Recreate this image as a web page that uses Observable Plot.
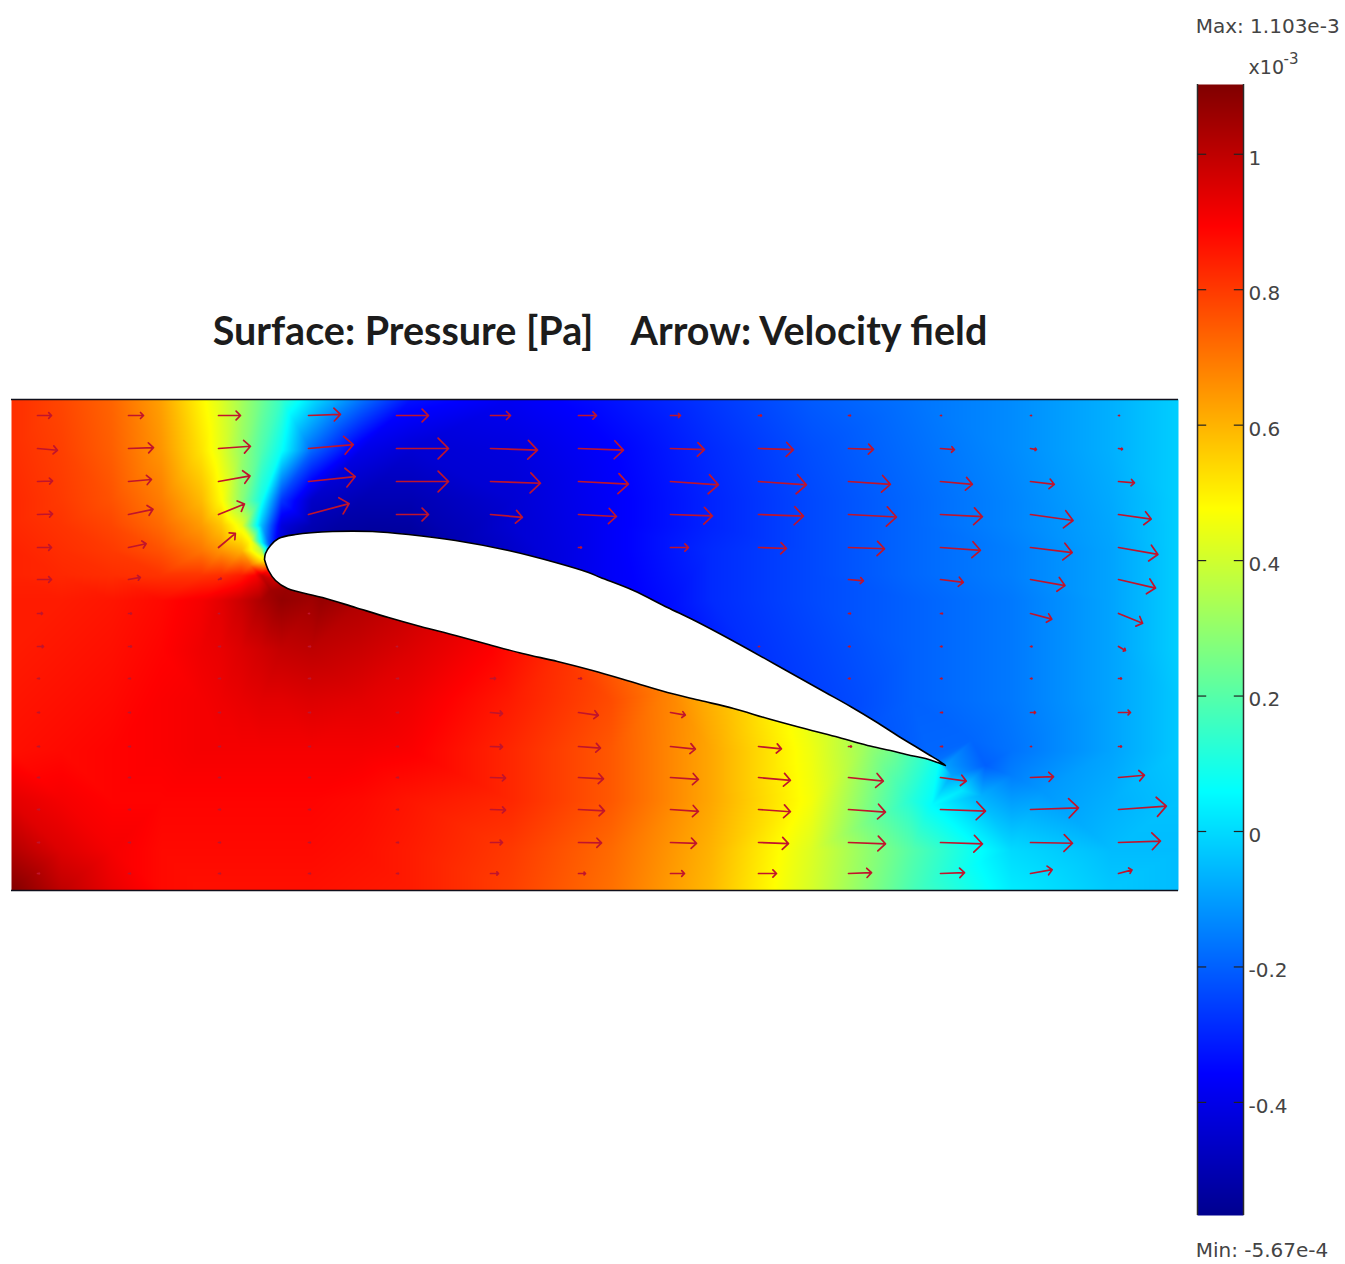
<!DOCTYPE html>
<html>
<head>
<meta charset="utf-8">
<script src="https://cdn.jsdelivr.net/npm/d3@7"></script>
<script src="https://cdn.jsdelivr.net/npm/@observablehq/plot@0.6"></script>
<style>
  html,body{margin:0;padding:0;background:#fff;}
  #chart{position:relative;width:1345px;height:1264px;overflow:hidden;}
  #chart svg{position:absolute;top:0;overflow:visible;background:transparent;}
</style>
</head>
<body>
<div id="chart"></div>
<script>
// ---------- labels ----------
const titleText = "Surface: Pressure [Pa]\u00a0\u00a0\u00a0 Arrow: Velocity field";
const maxLabel = "Max: 1.103e-3";
const minLabel = "Min: -5.67e-4";
const barTicks = [1, 0.8, 0.6, 0.4, 0.2, 0, -0.2, -0.4];
const pMin = -0.567, pMax = 1.103;     // x10^-3 Pa

// ---------- colormap ----------
const jetStops = [0, 0.125, 0.375, 0.625, 0.875, 1];
const jetColors = ["#00008f", "#0000ff", "#00ffff", "#ffff00", "#ff0000", "#800000"];

// ---------- pressure samples on a coarse grid (null = inside the airfoil) ----------
const gridX = [0, 0.5, 1, 1.5, 1.9, 2.1, 2.3, 2.5, 2.7, 3, 3.5, 4, 5, 6, 7, 8, 9, 10, 11, 11.67];
const gridY = [4.91, 4.4, 3.9, 3.65, 3.4, 3.15, 2.9, 2.4, 1.9, 1.4, 0.9, 0.4, 0];
const gridP = [
 [.82,.78,.73,.63,.49,.42,.33,.24,.15,.01,-.17,-.33,-.38,-.33,-.27,-.21,-.17,-.13,-.07,-.02],
 [.82,.79,.74,.65,.52,.43,.31,.19,.07,-.19,-.40,-.44,-.42,-.36,-.29,-.23,-.18,-.13,-.07,-.02],
 [.83,.80,.76,.69,.59,.48,.29,.09,-.27,-.46,-.50,-.50,-.44,-.37,-.30,-.24,-.19,-.14,-.08,-.02],
 [.83,.81,.78,.72,.64,.57,.44,-.05,-.42,-.50,-.53,-.53,-.44,-.37,-.30,-.24,-.19,-.14,-.085,-.02],
 [.84,.82,.80,.76,.70,.65,.60,.35,null,null,null,null,null,-.37,-.29,-.24,-.19,-.15,-.09,-.02],
 [.84,.83,.82,.81,.81,.82,.85,.98,null,null,null,null,null,-.37,-.29,-.24,-.19,-.15,-.09,-.02],
 [.85,.85,.86,.88,.91,.94,.98,1.03,1.07,1.05,null,null,null,null,-.29,-.24,-.20,-.16,-.09,-.02],
 [.85,.86,.87,.89,.92,.93,.95,.97,.99,1.0,.98,.95,null,null,null,-.25,-.20,-.16,-.09,-.02],
 [.86,.87,.88,.90,.91,.92,.93,.94,.94,.95,.94,.92,.85,.77,null,null,-.20,-.16,-.09,-.03],
 [.87,.88,.89,.90,.91,.91,.91,.91,.91,.91,.91,.90,.83,.75,.62,.45,null,-.17,-.09,-.03],
 [.94,.91,.89,.89,.89,.89,.89,.89,.89,.89,.88,.86,.83,.75,.62,.46,.12,-.10,-.07,-.04],
 [1.02,.95,.91,.88,.88,.88,.88,.88,.88,.88,.87,.85,.80,.72,.60,.42,.20,0,-.05,-.05],
 [1.1,1.0,.93,.88,.87,.87,.87,.87,.87,.87,.86,.85,.79,.71,.59,.41,.18,.03,-.03,-.05]
];

// ---------- airfoil outline with surface pressure ----------
const upperX = [2.53,2.54,2.59,2.67,2.84,3.21,3.61,3.97,4.44,4.97,5.44,5.77,5.89,6.22,6.56,6.81,7.06,7.39,7.64,7.89,8.14,8.39,8.64,8.89,9.04,9.17,9.27,9.34];
const upperY = [3.31,3.37,3.45,3.52,3.56,3.59,3.59,3.56,3.50,3.40,3.28,3.18,3.13,3.00,2.83,2.71,2.58,2.40,2.26,2.12,1.98,1.84,1.69,1.53,1.44,1.36,1.30,1.25];
const upperP = [.47,.10,-.25,-.40,-.49,-.53,-.54,-.54,-.50,-.46,-.42,-.39,-.38,-.36,-.34,-.32,-.30,-.28,-.27,-.26,-.25,-.24,-.22,-.21,-.20,-.19,-.17,-.10];
const lowerX = [2.57,2.64,2.76,3.11,3.44,3.77,4.09,4.44,4.77,5.11,5.46,5.81,6.19,6.56,6.89,7.22,7.56,7.89,8.24,8.56,8.79,8.99,9.14,9.26];
const lowerY = [3.20,3.10,3.02,2.93,2.83,2.73,2.64,2.55,2.46,2.37,2.29,2.20,2.09,1.98,1.90,1.82,1.72,1.63,1.54,1.45,1.40,1.35,1.32,1.28];
const lowerP = [.85,.98,1.06,1.07,1.02,.99,.96,.93,.90,.86,.82,.78,.73,.68,.62,.57,.51,.46,.39,.31,.25,.18,.13,.08];

// ---------- extra samples near the leading edge and in the wake ----------
const extraX = [2.39,2.44,2.59,2.39,2.44,9.5,9.74,10,9.4,9.7,9.6,10.3,9.2];
const extraY = [3.25,3.15,3.00,3.50,3.50,1.0,1.25,1.15,1.15,0.95,1.5,1.0,0.85];
const extraP = [.72,.90,1.05,.47,.25,.02,-.20,-.15,-.09,-.07,-.19,-.11,.06];

// ---------- velocity arrows ----------
const arrowX = [0.26,1.17,2.07,2.97,3.85,4.79,5.67,6.59,7.47,8.37,9.29,10.19,11.07];
const arrowY = [4.75,4.42,4.09,3.76,3.43,3.11,2.77,2.44,2.12,1.78,1.44,1.13,0.81,0.48,0.17];
const arrowSpeed = [
 [.28,.30,.44,.64,.64,.40,.36,.20,.06,.04,.02,.02,.02],
 [.40,.50,.64,.90,1.04,.94,.90,.68,.70,.50,.28,.12,.08],
 [.30,.46,.64,.94,1.04,1.0,1.0,.96,.96,.84,.64,.48,.32],
 [.30,.50,.56,.84,.64,.64,.76,.84,.90,.96,.84,.86,.66],
 [.28,.36,.44,0,0,0,.06,.36,.56,.72,.80,.84,.80],
 [.28,.24,.06,0,0,0,0,0,0,.30,.46,.70,.76],
 [.10,.06,.02,.02,0,0,0,0,0,.04,.04,.44,.52],
 [.12,.06,.04,.04,.02,0,0,0,.02,.03,.03,.03,.16],
 [.04,.04,.04,.04,.04,.10,.06,0,0,.03,.03,.03,.06],
 [.04,.04,.04,.04,.04,.24,.40,.30,0,0,.04,.10,.24],
 [.04,.04,.04,.04,.04,.24,.44,.50,.46,.06,.04,.02,.06],
 [.04,.04,.04,.04,.04,.30,.50,.56,.64,.70,.52,.46,.52],
 [.04,.04,.04,.04,.04,.30,.52,.56,.64,.74,.90,.96,.96],
 [.04,.04,.04,.04,.04,.24,.46,.52,.60,.74,.84,.84,.84],
 [.04,.04,.04,.04,.04,.16,.14,.28,.36,.46,.48,.44,.28]
];
const arrowRotate = [
 [90,90,90,88,90,90,90,90,90,90,90,90,90],
 [95,88,86,85,90,92,92,92,92,92,95,100,100],
 [88,85,80,84,90,92,93,94,94,94,95,97,95],
 [88,78,68,75,90,95,93,92,92,93,93,98,98],
 [90,78,50,90,90,90,90,90,92,92,94,97,100],
 [90,80,70,90,90,90,90,90,90,95,97,100,103],
 [90,90,90,90,90,90,90,90,90,90,90,105,112],
 [90,90,90,90,90,90,90,90,90,90,90,90,120],
 [90,90,90,90,90,90,90,90,90,90,90,90,90],
 [90,90,90,90,90,95,98,100,90,90,90,90,90],
 [90,90,90,90,90,92,94,96,96,90,90,90,90],
 [90,90,90,90,90,92,93,94,95,96,98,88,85],
 [90,90,90,90,90,92,93,94,94,94,92,88,86],
 [90,90,90,90,90,90,91,92,92,92,92,91,88],
 [90,90,90,90,90,90,90,90,90,88,88,80,75]
];

// ---------- tables ----------
const fieldPoints = [];
gridY.forEach((y, r) => gridX.forEach((x, c) => {
  if (gridP[r][c] !== null) fieldPoints.push({x, y, p: gridP[r][c]});
}));
upperX.forEach((x, i) => fieldPoints.push({x, y: upperY[i], p: upperP[i]}));
lowerX.forEach((x, i) => fieldPoints.push({x, y: lowerY[i], p: lowerP[i]}));
extraX.forEach((x, i) => fieldPoints.push({x, y: extraY[i], p: extraP[i]}));

const outline = [
  ...upperX.map((x, i) => ({x, y: upperY[i]})),
  ...lowerX.map((x, i) => ({x, y: lowerY[i]})).reverse(),
  {x: upperX[0], y: upperY[0]}
];

const arrows = [];
arrowY.forEach((y, r) => arrowX.forEach((x, c) => {
  if (arrowSpeed[r][c] > 0) arrows.push({x, y, speed: arrowSpeed[r][c], rot: arrowRotate[r][c]});
}));

const colorScale = {
  type: "linear",
  domain: jetStops.map(t => pMin + t * (pMax - pMin)),
  range: jetColors,
  interpolate: "rgb",
  clamp: true
};

// ---------- field ----------
const field = Plot.plot({
  width: 1345, height: 1264,
  marginLeft: 11, marginRight: 167, marginTop: 399, marginBottom: 374,
  x: {domain: [0, 11.67], axis: null},
  y: {domain: [0, 4.91], axis: null},
  color: colorScale,
  length: {type: "linear", domain: [0, 1], range: [0, 50]},
  marks: [
    Plot.raster(fieldPoints, {x: "x", y: "y", fill: "p", x1: 0, x2: 11.67, y1: 0, y2: 4.91,
      interpolate: "barycentric", pixelSize: 1}),
    Plot.ruleY([0, 4.91], {stroke: "#10101c", strokeWidth: 1.5}),
    Plot.line(outline, {x: "x", y: "y", fill: "white", stroke: "#000", strokeWidth: 1.6, curve: "catmull-rom"}),
    Plot.vector(arrows, {x: "x", y: "y", length: "speed", rotate: "rot", anchor: "start",
      stroke: "#c0142c", strokeWidth: 1.7}),
    Plot.text([titleText], {x: 5.885, y: 5.58, text: d => d, fontFamily: "Lato", fontWeight: 700,
      fontSize: 39.5, fill: "#1c1c1c"})
  ]
});
field.style.left = "0px";
document.getElementById("chart").appendChild(field);

// ---------- colour bar ----------
const textStyle = {fontFamily: "DejaVu Sans", fontSize: 20, fill: "#444", textAnchor: "start"};
const bar = Plot.plot({
  width: 148, height: 1264,
  marginLeft: 0, marginRight: 102, marginTop: 84, marginBottom: 49,
  x: {domain: [0, 1], axis: null},
  y: {domain: [pMin, pMax], axis: null},
  color: colorScale,
  marks: [
    Plot.raster({x1: 0, x2: 1, y1: pMin, y2: pMax, fill: (x, y) => y, pixelSize: 1}),
    Plot.ruleX([0, 1], {stroke: "#2a2a2a", strokeWidth: 1.5}),
    Plot.ruleY(barTicks, {x1: 0, x2: 0.2, stroke: "#222", strokeWidth: 1.2}),
    Plot.ruleY(barTicks, {x1: 0.8, x2: 1, stroke: "#222", strokeWidth: 1.2}),
    Plot.text(barTicks, {x: 1, y: d => d, text: d => String(d), dx: 5, dy: 4, ...textStyle}),
    Plot.text([maxLabel], {x: -0.04, y: 1.189, text: d => d, ...textStyle}),
    Plot.text([minLabel], {x: -0.04, y: -0.619, text: d => d, ...textStyle}),
    Plot.text(["x10"], {x: 1.11, y: 1.127, text: d => d, ...textStyle, fontSize: 19}),
    Plot.text(["-3"], {x: 1.87, y: 1.141, text: d => d, ...textStyle, fontSize: 15})
  ]
});
bar.style.left = "1197px";
document.getElementById("chart").appendChild(bar);
</script>
</body>
</html>
